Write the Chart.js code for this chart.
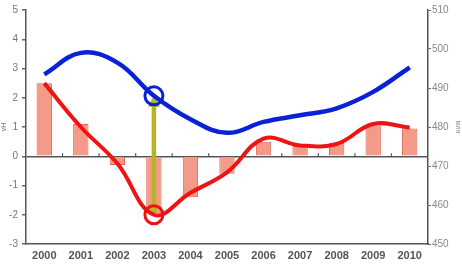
<!DOCTYPE html>
<html>
<head>
<meta charset="utf-8">
<script src="https://cdn.jsdelivr.net/npm/chart.js@4"></script>
<style>
  html, body { margin: 0; padding: 0; background: #fff; }
  #wrap { width: 462px; height: 265px; }
</style>
</head>
<body>
<div id="wrap"><canvas id="chart"></canvas></div>
<script>
// Chart data
const years = ['2000', '2001', '2002', '2003', '2004', '2005', '2006', '2007', '2008', '2009', '2010'];
const barValues = [2.5, 1.1, -0.3, -1.95, -1.4, -0.6, 0.5, 0.35, 0.45, 1.05, 0.95];
const redLine = [2.5, 1.0, -0.25, -2.0, -1.25, -0.55, 0.6, 0.37, 0.42, 1.1, 0.98];
const blueLine = [493.5, 499, 496.5, 488, 482, 478.5, 481.3, 483, 484.8, 489, 495.3];
const markedIndex = 3; // 2003, circled on both lines

const leftTicks = { min: -3, max: 5, step: 1 };
const rightTicks = { min: 450, max: 510, step: 10 };

const pointRadii = years.map((y, i) => (i === markedIndex ? 9 : 0));

// Arrow between the two circled points, drawn right after the bars
const arrowPlugin = {
  id: 'arrow',
  afterDatasetDraw(chart, args) {
    if (args.meta.type !== 'bar') return;
    const ctx = chart.ctx;
    const x = chart.scales.x.getPixelForValue(markedIndex);
    const yBottom = chart.scales.y.getPixelForValue(redLine[markedIndex]) + 1;
    const yTop = chart.scales.y1.getPixelForValue(blueLine[markedIndex]);
    ctx.save();
    ctx.strokeStyle = '#b5b328';
    ctx.fillStyle = '#b5b328';
    ctx.lineWidth = 4.5;
    ctx.beginPath();
    ctx.moveTo(x, yTop + 8);
    ctx.lineTo(x, yBottom - 8);
    ctx.stroke();
    // heads
    ctx.beginPath();
    ctx.moveTo(x, yTop);
    ctx.lineTo(x - 6, yTop + 11);
    ctx.lineTo(x + 6, yTop + 11);
    ctx.closePath();
    ctx.fill();
    ctx.beginPath();
    ctx.moveTo(x, yBottom);
    ctx.lineTo(x - 6, yBottom - 11);
    ctx.lineTo(x + 6, yBottom - 11);
    ctx.closePath();
    ctx.fill();
    ctx.restore();
  }
};

// Small tick marks on the zero line between categories
const zeroTicksPlugin = {
  id: 'zeroTicks',
  afterDatasetsDraw(chart) {
    const ctx = chart.ctx;
    const xs = chart.scales.x;
    const y0 = chart.scales.y.getPixelForValue(0);
    const half = (xs.getPixelForValue(1) - xs.getPixelForValue(0)) / 2;
    ctx.save();
    ctx.strokeStyle = '#555';
    ctx.lineWidth = 1.2;
    for (let i = 0; i < years.length - 1; i++) {
      const x = xs.getPixelForValue(i) + half;
      ctx.beginPath();
      ctx.moveTo(x, y0);
      ctx.lineTo(x, y0 - 3);
      ctx.stroke();
    }
    ctx.restore();
  }
};

new Chart(document.getElementById('chart'), {
  type: 'bar',
  data: {
    labels: years,
    datasets: [
      {
        type: 'line',
        data: blueLine,
        yAxisID: 'y1',
        order: 1,
        borderColor: '#0a22d6',
        borderWidth: 4.5,
        tension: 0.4,
        pointRadius: pointRadii,
        pointBorderWidth: 3,
        pointBorderColor: '#0a22d6',
        pointBackgroundColor: 'rgba(0,0,0,0)'
      },
      {
        type: 'line',
        data: redLine,
        yAxisID: 'y',
        order: 2,
        borderColor: '#ee1414',
        borderWidth: 4,
        tension: 0.4,
        pointRadius: pointRadii,
        pointBorderWidth: 3,
        pointBorderColor: '#ee1414',
        pointBackgroundColor: 'rgba(0,0,0,0)'
      },
      {
        type: 'bar',
        data: barValues,
        yAxisID: 'y',
        order: 3,
        backgroundColor: '#f39b88',
        borderColor: '#e0604c',
        borderWidth: 1,
        barPercentage: 0.42,
        categoryPercentage: 1.0
      }
    ]
  },
  options: {
    responsive: true,
    maintainAspectRatio: false,
    animation: false,
    layout: { padding: { top: 8, left: 0, right: 0, bottom: 0 } },
    plugins: {
      legend: { display: false },
      tooltip: { enabled: false }
    },
    scales: {
      x: {
        grid: { display: false, drawTicks: false },
        border: { display: true, color: '#555', width: 1.5 },
        ticks: {
          padding: 5,
          color: '#555',
          font: { family: 'Liberation Sans, Arial, sans-serif', size: 11, weight: 'bold' }
        },
        afterFit(scale) { scale.height = 21; }
      },
      y: {
        position: 'left',
        min: leftTicks.min,
        max: leftTicks.max,
        ticks: {
          stepSize: leftTicks.step,
          padding: 4,
          color: '#777',
          font: { family: 'Liberation Sans, Arial, sans-serif', size: 10 }
        },
        grid: {
          color: ctx => (ctx.tick && ctx.tick.value === 0 ? '#555' : 'rgba(0,0,0,0)'),
          lineWidth: 1.5,
          tickColor: '#666',
          tickLength: 4
        },
        border: { display: true, color: '#555', width: 1.5 },
        title: {
          display: true,
          text: 'vH',
          color: '#777',
          padding: 0,
          font: { family: 'Liberation Sans, Arial, sans-serif', size: 7 }
        },
        afterFit(scale) { scale.width = 26; }
      },
      y1: {
        position: 'right',
        min: rightTicks.min,
        max: rightTicks.max,
        ticks: {
          stepSize: rightTicks.step,
          padding: 1,
          color: '#888',
          font: { family: 'Liberation Sans, Arial, sans-serif', size: 10 }
        },
        grid: { drawOnChartArea: false, tickColor: '#666', tickLength: 3 },
        border: { display: true, color: '#555', width: 1.5 },
        title: {
          display: true,
          text: 'млн',
          color: '#888',
          padding: 0,
          font: { family: 'Liberation Sans, Arial, sans-serif', size: 7 }
        },
        afterFit(scale) { scale.width = 34; }
      }
    }
  },
  plugins: [arrowPlugin, zeroTicksPlugin]
});
</script>
</body>
</html>
